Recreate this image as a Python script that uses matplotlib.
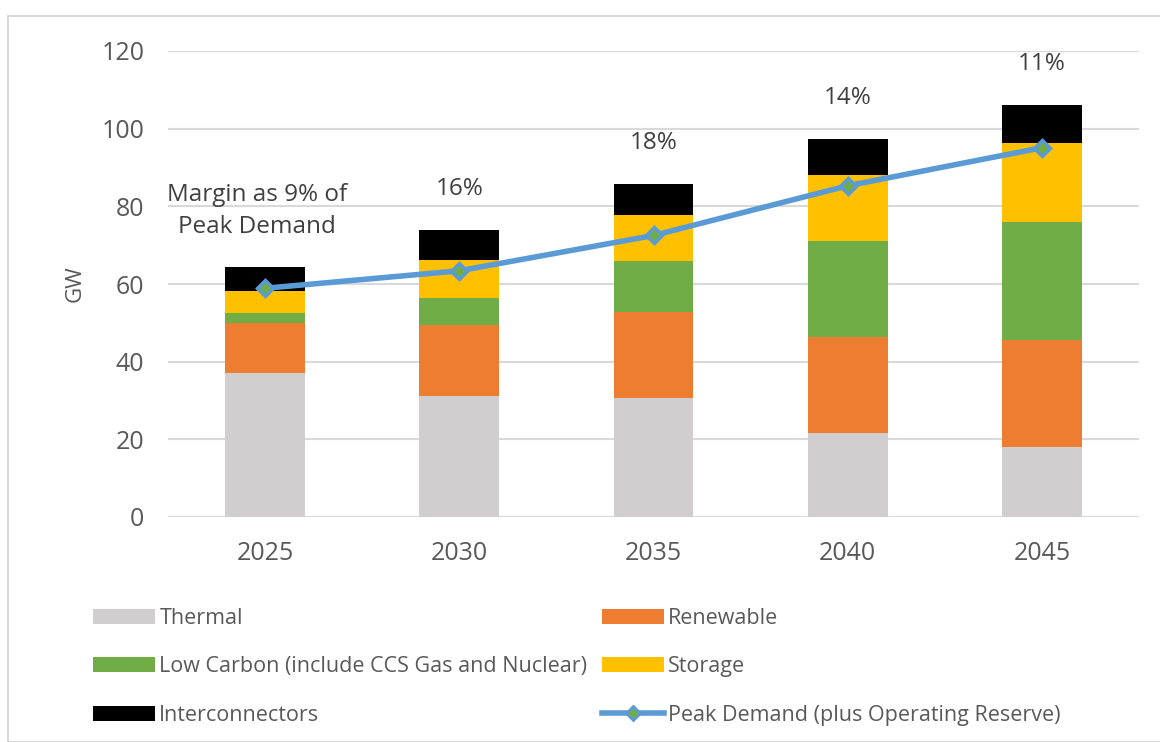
import matplotlib
matplotlib.use("Agg")
import matplotlib.pyplot as plt
from matplotlib.patches import Rectangle, Patch
from matplotlib.lines import Line2D
import numpy as np

years = ["2025", "2030", "2035", "2040", "2045"]
thermal = [37.0, 31.2, 30.7, 21.7, 17.9]
renewable = [12.9, 18.2, 22.2, 24.6, 27.7]
low_carbon = [2.6, 7.1, 12.9, 24.9, 30.3]
storage = [5.8, 9.7, 12.0, 16.9, 20.3]
interconnectors = [6.0, 7.7, 7.9, 9.2, 9.8]
peak_demand = [58.9, 63.4, 72.5, 85.3, 95.1]
margin_labels = ["Margin as 9% of\nPeak Demand", "16%", "18%", "14%", "11%"]
yticks = [0, 20, 40, 60, 80, 100, 120]

plt.rcParams['font.family'] = ['Open Sans', 'DejaVu Sans']
txt = '#595959'

fig = plt.figure(figsize=(11.6, 7.42), dpi=100)
W, H = 1160, 742
ax = fig.add_axes([168/W, 1-517/H, (1139-168)/W, (517-51)/H])

series = [
    ("Thermal", thermal, "#D0CECE"),
    ("Renewable", renewable, "#ED7D31"),
    ("Low Carbon (include CCS Gas and Nuclear)", low_carbon, "#70AD47"),
    ("Storage", storage, "#FFC000"),
    ("Interconnectors", interconnectors, "#000000"),
]
x = np.arange(len(years))
bottom = np.zeros(len(years))
for name, vals, col in series:
    ax.bar(x, vals, bottom=bottom, width=0.41, color=col, zorder=2)
    bottom += np.array(vals)
totals = bottom

ax.plot(x, peak_demand, color="#5B9BD5", lw=4, marker="D", ms=8,
        mfc="#70AD47", mec="#5B9BD5", mew=2.5, zorder=3)

for i, lab in enumerate(margin_labels):
    if i == 0:
        ax.text(x[i] - 0.04, totals[i] + 14.5, lab, ha="center", va="center",
                fontsize=17.5, color="#404040", linespacing=1.45)
    else:
        ax.text(x[i], totals[i] + 10.6, lab, ha="center", va="center",
                fontsize=17.5, color="#404040")

ax.set_xlim(-0.5, len(years) - 0.5)
ax.set_ylim(0, 120)
ax.set_yticks(yticks)
ax.set_xticks(x)
ax.set_xticklabels(years)
ax.tick_params(axis='both', length=0, labelsize=18, colors=txt)
ax.tick_params(axis='y', pad=17)
ax.tick_params(axis='x', pad=17)
ax.grid(axis='y', color="#D9D9D9", lw=1.5, zorder=0)
ax.set_axisbelow(True)
for s in ax.spines.values():
    s.set_visible(False)
ax.set_ylabel("GW", fontsize=16, color=txt, labelpad=11)

# legend (two columns)
handles = [Patch(facecolor=c, edgecolor='none') for _, _, c in series]
labels = [n for n, _, _ in series]
handles.append(Line2D([0], [0], color="#5B9BD5", lw=4, marker="D", ms=7,
                      mfc="#70AD47", mec="#5B9BD5", mew=2))
labels.append("Peak Demand (plus Operating Reserve)")
cols = [([0, 2, 4], 84), ([1, 3, 5], 593)]
for idx, xpos in cols:
    leg = fig.legend([handles[i] for i in idx], [labels[i] for i in idx],
                     ncol=1, loc="upper left", bbox_to_anchor=(xpos/W, 1-599/H),
                     frameon=False, fontsize=15.5, labelcolor=txt,
                     handlelength=2.9, handleheight=0.7, handletextpad=0.2,
                     labelspacing=1.28, borderaxespad=0)

fig.patches.append(Rectangle((8/W, 0), 1.2, 1-16/H, transform=fig.transFigure,
                             fill=False, edgecolor="#D9D9D9", lw=1.5))

fig.savefig("out.png", dpi=100)
